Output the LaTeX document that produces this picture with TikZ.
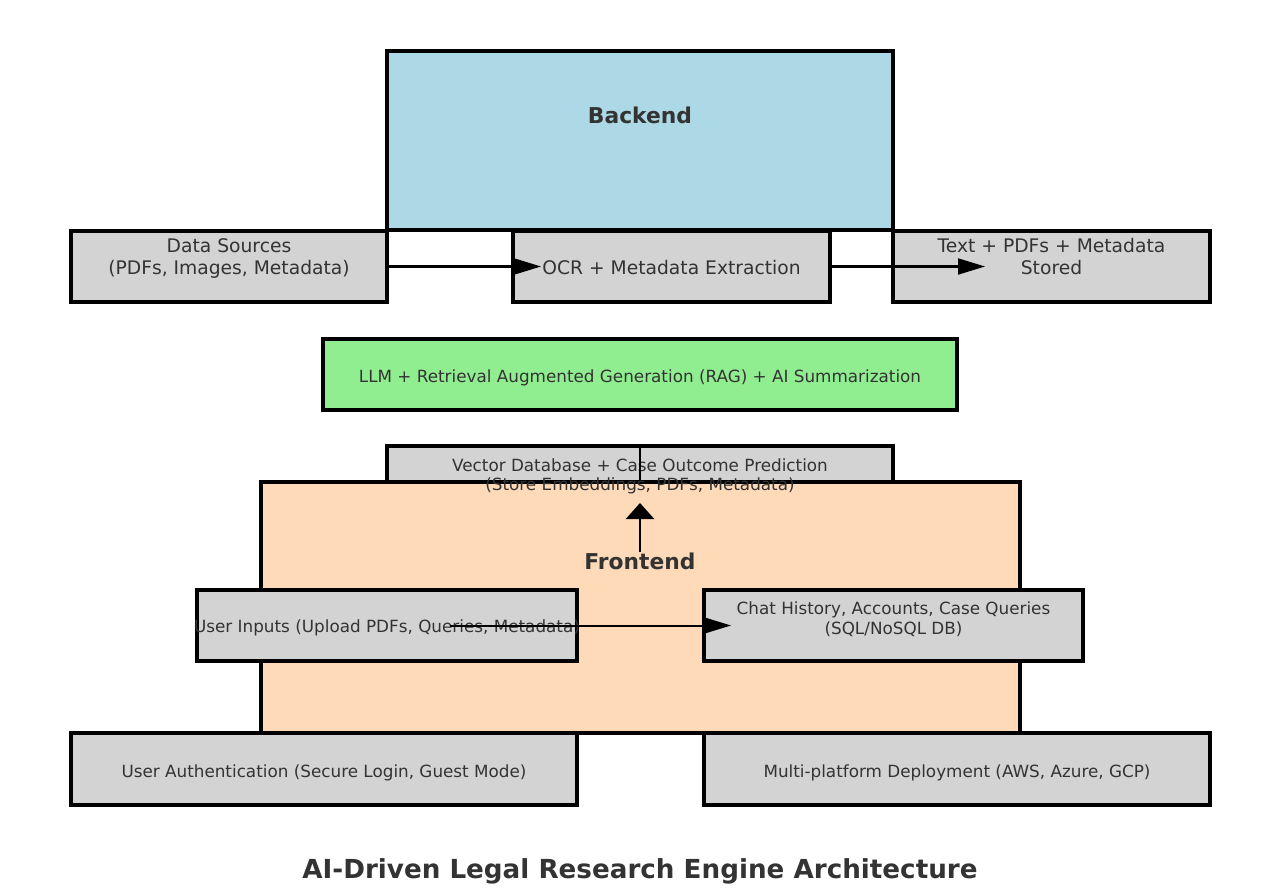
\documentclass[tikz,border=0pt]{standalone}
\usepackage{fontspec}
\setmainfont{DejaVu Sans}
\usetikzlibrary{arrows.meta}
\definecolor{backblue}{HTML}{ADD8E6}
\definecolor{boxgray}{HTML}{D3D3D3}
\definecolor{llmgreen}{HTML}{90EE90}
\definecolor{frontpeach}{HTML}{FFDAB9}
\definecolor{txtgray}{HTML}{333333}

\begin{document}
\begin{tikzpicture}[x=1pt,y=-1pt,
  box/.style={draw=black,line width=3.3pt,inner sep=0pt},
  lbl/.style={text=txtgray,align=center,inner sep=0pt,font=\fontsize{18.7}{22}\selectfont},
  slbl/.style={text=txtgray,align=center,inner sep=0pt,font=\fontsize{16.8}{19.5}\selectfont},
  head/.style={text=txtgray,inner sep=0pt,font=\fontsize{21.8}{26}\selectfont\bfseries},
  arr/.style={line width=2pt,-{Triangle[length=27pt,width=16pt]}},
  varr/.style={line width=2.5pt,-{Triangle[length=16pt,width=28pt]}}]
  \useasboundingbox (0,0) rectangle (1280,896);

  \node[box,fill=backblue,minimum width=506pt,minimum height=179pt] (back) at (640,140.5) {};
  \node[head] (backlbl) at (640,115) {Backend};

  \node[box,fill=boxgray,minimum width=316pt,minimum height=71pt] (ds) at (229,266.5) {};
  \node[lbl] (dslbl) at (229,259) {Data Sources\\(PDFs, Images, Metadata)};
  \node[box,fill=boxgray,minimum width=317pt,minimum height=71pt] (ocr) at (671.5,266.5) {};
  \node[lbl] (ocrlbl) at (671.5,268) {OCR + Metadata Extraction};
  \node[box,fill=boxgray,minimum width=317pt,minimum height=71pt] (store) at (1051.5,266.5) {};
  \node[lbl] (storelbl) at (1051.5,257) {Text + PDFs + Metadata\\Stored};
  \coordinate (ocrtip) at (541,266.5);
  \coordinate (storetip) at (985,266.5);
  \draw[arr] (ds.east) -- (ocrtip);
  \draw[arr] (ocr.east) -- (storetip);

  \node[box,fill=llmgreen,minimum width=634pt,minimum height=71pt] (llm) at (640,374.5) {};
  \node[slbl] (llmlbl) at (640,378) {LLM + Retrieval Augmented Generation (RAG) + AI Summarization};

  \node[box,fill=boxgray,minimum width=506pt,minimum height=72pt] (vdb) at (640,482) {};
  \node[box,fill=frontpeach,minimum width=759pt,minimum height=251pt] (front) at (640.5,607.5) {};
  \node[slbl] (vdblbl) at (640,476.5) {Vector Database + Case Outcome Prediction\\(Store Embeddings, PDFs, Metadata)};
  \node[head] (frontlbl) at (640,561) {Frontend};
  \coordinate (vtip) at (640,503);
  \draw[line width=2.5pt] (vdb.north) -- (vdb.north |- front.north);
  \draw[varr] (frontlbl.north) -- (vtip);

  \node[box,fill=boxgray,minimum width=380pt,minimum height=71pt] (ui) at (387,625.5) {};
  \node[slbl] (uilbl) at (387,628) {User Inputs (Upload PDFs, Queries, Metadata)};
  \node[box,fill=boxgray,minimum width=379pt,minimum height=71pt] (chat) at (893.5,625.5) {};
  \node[slbl] (chatlbl) at (893.5,619) {Chat History, Accounts, Case Queries\\(SQL/NoSQL DB)};
  \coordinate (uistart) at (450,625.5);
  \coordinate (uitip) at (731,625.5);
  \draw[arr] (uistart) -- (uitip);

  \node[box,fill=boxgray,minimum width=506pt,minimum height=72pt] (auth) at (324,769) {};
  \node[slbl] (authlbl) at (324,773) {User Authentication (Secure Login, Guest Mode)};
  \node[box,fill=boxgray,minimum width=506pt,minimum height=72pt] (deploy) at (957,769) {};
  \node[slbl] (deploylbl) at (957,773) {Multi-platform Deployment (AWS, Azure, GCP)};

  \node[text=txtgray,inner sep=0pt,font=\fontsize{26.2}{31}\selectfont\bfseries] (title) at (640,871) {AI-Driven Legal Research Engine Architecture};
\end{tikzpicture}
\end{document}
